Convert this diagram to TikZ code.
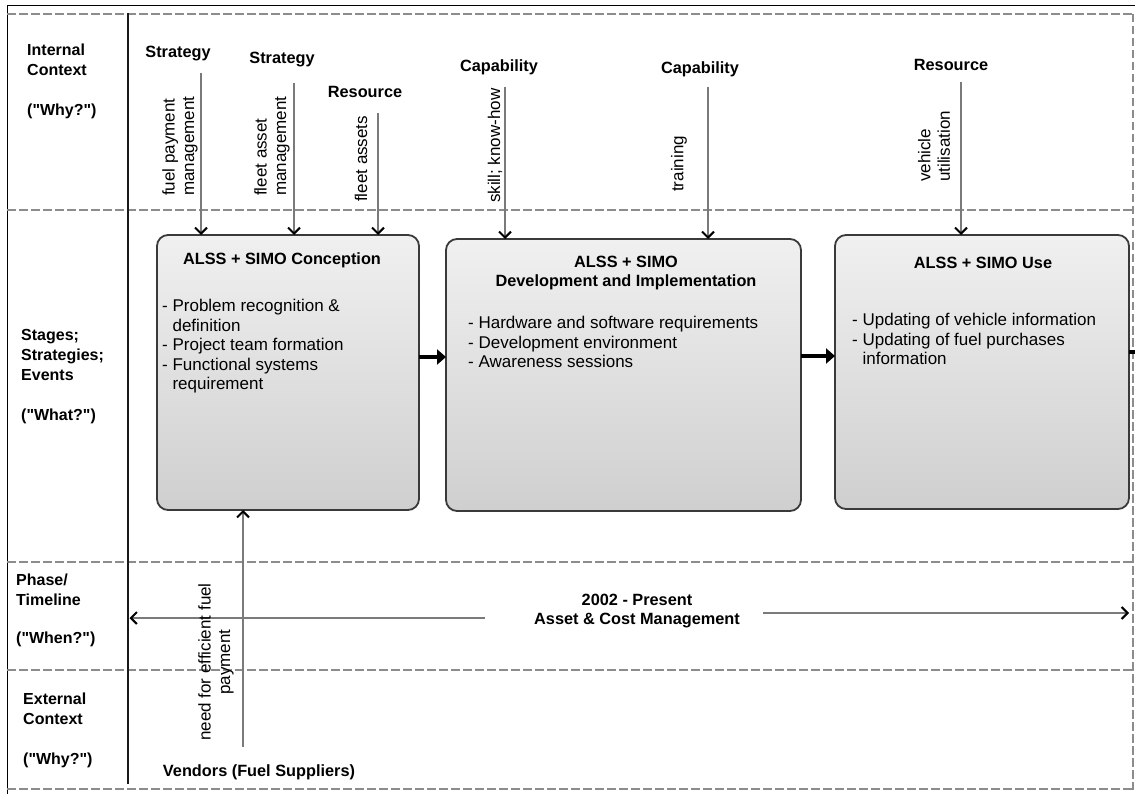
\documentclass[tikz,border=0pt]{standalone}
\usepackage{fontspec}
\setmainfont{Liberation Sans}
\usetikzlibrary{arrows.meta}
\definecolor{lanegray}{HTML}{8C8C8C}
\definecolor{feedgray}{HTML}{7A7A7A}
\definecolor{boxedge}{HTML}{3A3A3A}
\definecolor{boxtop}{HTML}{F0F0F0}
\definecolor{boxmid}{HTML}{D6D6D6}
\definecolor{boxbot}{HTML}{CFCFCF}
\newcommand\dq{\textquotedbl}
\begin{document}
\begin{tikzpicture}[x=1pt,y=-1pt,
  lane/.style={draw=lanegray, line width=2pt, dash pattern=on 8.5pt off 3.5pt},
  edge/.style={draw=lanegray, line width=1.2pt, dash pattern=on 8.5pt off 3.5pt},
  stage/.style={draw=boxedge, line width=1.8pt, rounded corners=11pt,
    top color=boxtop, middle color=boxmid, bottom color=boxbot,
    anchor=north west, inner sep=0pt, outer sep=0pt},
  rowlabel/.style={font=\fontsize{16}{20}\selectfont\bfseries, inner sep=0pt,
    align=left, anchor=north west},
  head/.style={font=\fontsize{16.3}{19.5}\selectfont\bfseries, inner sep=0pt, align=center},
  items/.style={font=\fontsize{17}{19.5}\selectfont, inner sep=0pt, align=left,
    anchor=north west},
  side/.style={font=\fontsize{17}{19.5}\selectfont, inner sep=0pt, align=left,
    rotate=90, anchor=west},
  feed/.style={draw=feedgray, line width=1.6pt,
    -{Straight Barb[color=black, length=6pt, width=12pt, line width=2pt]}},
  flow/.style={draw=black, line width=3.5pt, -{Triangle[length=9pt, width=15pt]}}
]
\useasboundingbox (0,0) rectangle (1135,794);

% outer frame
\draw[black, line width=1pt] (7,6) -- (1135,6);
\draw[black, line width=1pt] (7,6) -- (7,794);

% swim-lane separators
\foreach \yy in {14,210,562,670,789}
  \draw[lane] (7,\yy) -- (1133,\yy);
\draw[edge] (1133,14) -- (1133,790);
\draw[black!90, line width=2.5pt] (128,13) -- (128,784);

% row labels
\node[rowlabel] (lint) at (27,44) {Internal\\Context\\[20pt](\dq Why?\dq)};
\node[rowlabel] (lstage) at (21,329) {Stages;\\Strategies;\\Events\\[20pt](\dq What?\dq)};
\node[rowlabel] (lphase) at (16,574) {Phase/\\Timeline\\[18pt](\dq When?\dq)};
\node[rowlabel] (lext) at (23,693) {External\\Context\\[20pt](\dq Why?\dq)};

% stage boxes
\node[stage, minimum width=262pt, minimum height=275pt] (box1) at (157,235) {};
\node[stage, minimum width=355pt, minimum height=272pt] (box2) at (446,239) {};
\node[stage, minimum width=294pt, minimum height=274pt] (box3) at (835,235) {};

\node[head] (t1) at (282,260) {ALSS + SIMO Conception};
\node[items] (i1) at (162,299) {- Problem recognition \&\\\hphantom{- }definition\\- Project team formation\\- Functional systems\\\hphantom{- }requirement};

\node[head] (t2) at (626,273) {ALSS + SIMO\\Development and Implementation};
\node[items] (i2) at (468,316) {- Hardware and software requirements\\- Development environment\\- Awareness sessions};

\node[head] (t3) at (983,263) {ALSS + SIMO Use};
\node[items] (i3) at (852,313) {- Updating of vehicle information\\- Updating of fuel purchases\\\hphantom{- }information};

% flow between stages
\coordinate (m1) at (0,357);
\coordinate (m2) at (0,356);
\coordinate (m3) at (1135,352);
\draw[flow] (box1.east |- m1) -- (box2.west |- m1);
\draw[flow] (box2.east |- m2) -- (box3.west |- m2);
\draw[black, line width=3.5pt] (box3.east |- m3) -- (m3);

% internal context drivers
\node[head] (s1) at (178,54) {Strategy};
\node[head] (s2) at (282,60) {Strategy};
\node[head] (r1) at (365,92) {Resource};
\node[head] (c1) at (499,67) {Capability};
\node[head] (c2) at (700,69) {Capability};
\node[head] (r2) at (951,65) {Resource};

\coordinate (a1) at (201,73);
\coordinate (a2) at (294,83);
\coordinate (a3) at (378,113);
\coordinate (a4) at (505,87);
\coordinate (a5) at (708,87);
\coordinate (a6) at (961,82);
\draw[feed] (a1) -- (a1 |- box1.north);
\draw[feed] (a2) -- (a2 |- box1.north);
\draw[feed] (a3) -- (a3 |- box1.north);
\draw[feed] (a4) -- (a4 |- box2.north);
\draw[feed] (a5) -- (a5 |- box2.north);
\draw[feed] (a6) -- (a6 |- box3.north);

\node[side] (f1) at (180,196) {fuel payment\\management};
\node[side] (f2) at (272,196) {fleet asset\\management};
\node[side] (f3) at (361,202) {fleet assets};
\node[side] (f4) at (495,203) {skill; know-how};
\node[side] (f5) at (679,192) {training};
\node[side] (f6) at (934,182) {vehicle\\utilisation};

% timeline
\node[head] (tl) at (637,611) {2002 - Present\\Asset \& Cost Management};
\coordinate (tl0) at (129.5,618);
\coordinate (tl1) at (485,618);
\coordinate (tr0) at (763,613);
\coordinate (tr1) at (1129,613);
\draw[feed] (tl1) -- (tl0);
\draw[feed] (tr0) -- (tr1);

% external context
\node[head] (vend) at (259,772) {Vendors (Fuel Suppliers)};
\coordinate (v0) at (243,747);
\draw[feed] (v0) -- (v0 |- box1.south);
\node[side, align=center, anchor=center] (f7) at (216,662) {need for efficient fuel\\payment};
\end{tikzpicture}
\end{document}
